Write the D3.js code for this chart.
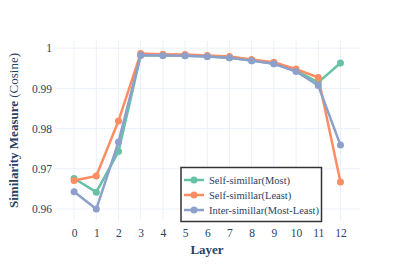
<!DOCTYPE html>
<html><head><meta charset="utf-8">
<script src="https://cdn.jsdelivr.net/npm/d3@7"></script>
<style>body{margin:0;background:#fff}</style>
</head><body><svg id="c" width="415" height="277"></svg>
<script>
const layers = [0,1,2,3,4,5,6,7,8,9,10,11,12];
const selfMost  = [0.9676,0.9642,0.9743,0.9982,0.9982,0.9981,0.9979,0.9976,0.9969,0.9961,0.9944,0.9915,0.9963];
const selfLeast = [0.9671,0.9682,0.9819,0.9987,0.9985,0.9984,0.9982,0.9979,0.9972,0.9965,0.9948,0.9927,0.9667];
const inter     = [0.9643,0.9600,0.9767,0.9983,0.9982,0.9981,0.9979,0.9976,0.9969,0.9961,0.9942,0.9907,0.9759];
const yTicks = [0.96,0.97,0.98,0.99,1];
const yTickLabels = ["0.96","0.97","0.98","0.99","1"];
const seriesNames = ["Self-simillar(Most)","Self-simillar(Least)","Inter-simillar(Most-Least)"];
const colors = ["#66c2a5","#fc8d62","#8da0cb"];
const series = [selfMost, selfLeast, inter];

const svg = d3.select("#c");
const L=55,R=360,T=41,B=220;
const x = d3.scaleLinear().domain([-0.86,12.88]).range([L,R]);
const y = d3.scaleLinear().domain([0.95728,1.00178]).range([B,T]);
const font = "'Liberation Serif','Times New Roman',serif";
const tc = "#2a3f5f";

// grid
svg.append("g").selectAll("line").data(layers).join("line")
  .attr("x1",d=>x(d)).attr("x2",d=>x(d)).attr("y1",T).attr("y2",B)
  .attr("stroke","#ebf0f8").attr("stroke-width",1);
svg.append("g").selectAll("line").data(yTicks).join("line")
  .attr("x1",L).attr("x2",R).attr("y1",d=>y(d)).attr("y2",d=>y(d))
  .attr("stroke","#ebf0f8").attr("stroke-width",1);

// axes
const xa = svg.append("g").attr("transform",`translate(0,${B})`)
  .call(d3.axisBottom(x).tickValues(layers).tickSize(0).tickPadding(9).tickFormat(d3.format("d")));
const ya = svg.append("g").attr("transform",`translate(${L},0)`)
  .call(d3.axisLeft(y).tickValues(yTicks).tickSize(0).tickPadding(3).tickFormat((d,i)=>yTickLabels[i]));
[xa,ya].forEach(a=>{a.select(".domain").remove();
  a.selectAll("text").attr("font-family",font).attr("font-size",11.5).attr("fill",tc);});

// lines
const line = d3.line().x((d,i)=>x(layers[i])).y(d=>y(d));
series.forEach((s,k)=>{
  const g = svg.append("g");
  g.append("path").datum(s).attr("d",line).attr("fill","none")
    .attr("stroke",colors[k]).attr("stroke-width",2.5).attr("stroke-linejoin","round");
  g.selectAll("circle").data(s).join("circle")
    .attr("cx",(d,i)=>x(layers[i])).attr("cy",d=>y(d)).attr("r",3.5).attr("fill",colors[k]);
});

// titles
svg.append("text").attr("x",207).attr("y",254).attr("text-anchor","middle")
  .attr("font-family",font).attr("font-size",13).attr("font-weight","bold").attr("fill",tc).text("Layer");
const yt = svg.append("text").attr("transform",`translate(18,${(T+B)/2}) rotate(-90)`)
  .attr("text-anchor","middle").attr("font-family",font).attr("font-size",13).attr("fill",tc);
yt.append("tspan").attr("font-weight","bold").text("Similarity Measure ");
yt.append("tspan").text("(Cosine)");

// legend
const lg = svg.append("g");
lg.append("rect").attr("x",181).attr("y",167.5).attr("width",140.5).attr("height",54)
  .attr("fill","#fff").attr("stroke","#333").attr("stroke-width",1.5);
seriesNames.forEach((n,k)=>{
  const yy = 180 + k*15;
  lg.append("line").attr("x1",184).attr("x2",204).attr("y1",yy).attr("y2",yy)
    .attr("stroke",colors[k]).attr("stroke-width",2.5);
  lg.append("circle").attr("cx",194).attr("cy",yy).attr("r",3.5).attr("fill",colors[k]);
  lg.append("text").attr("x",209).attr("y",yy+3.6).attr("font-family",font).attr("font-size",10.5)
    .attr("fill",tc).text(n);
});
</script></body></html>
